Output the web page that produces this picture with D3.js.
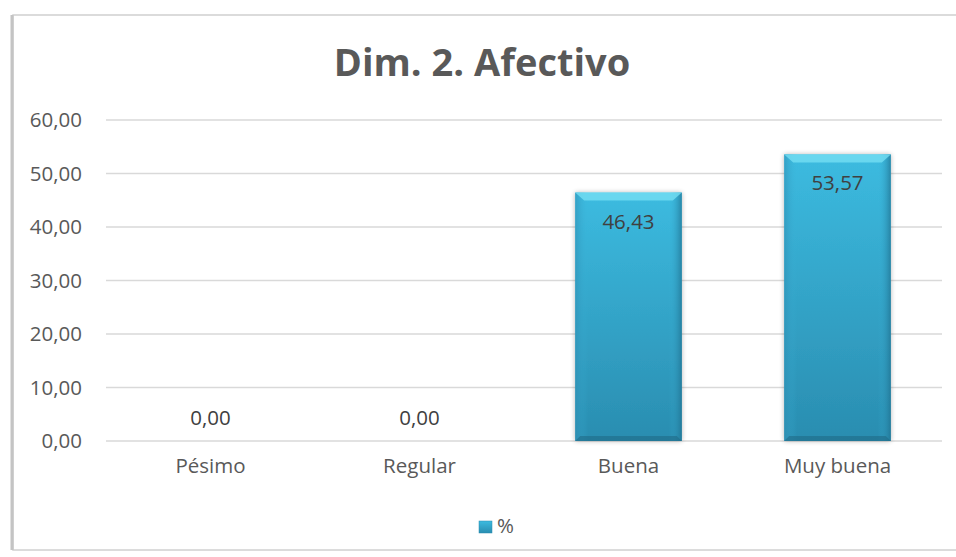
<!DOCTYPE html>
<html>
<head>
<meta charset="utf-8">
<script src="https://cdn.jsdelivr.net/npm/d3@7"></script>
<style>
  body { margin: 0; background: #fff; }
  text { font-family: "Open Sans", "DejaVu Sans", sans-serif; }
</style>
</head>
<body>
<div id="container"></div>
<script>
let w = 956;
let h = 557;

// data
let categories = ["Pésimo", "Regular", "Buena", "Muy buena"];
let values = [0, 0, 46.43, 53.57];
let yTicks = [0, 10, 20, 30, 40, 50, 60];
let seriesName = "%";

let fmt = function(v){ return d3.format(".2f")(v).replace(".", ","); };

let barData = categories.map(function(c, i){ return {cat: c, val: values[i]}; });

let viz = d3.select("#container")
  .append("svg")
    .attr("width", w)
    .attr("height", h);

let defs = viz.append("defs");

let grad = defs.append("linearGradient")
  .attr("id", "barGrad")
  .attr("x1", 0).attr("y1", 0).attr("x2", 0).attr("y2", 1);
grad.append("stop").attr("offset", "0%").attr("stop-color", "#3cbbe0");
grad.append("stop").attr("offset", "100%").attr("stop-color", "#2a8db0");

let sideGrad = defs.append("linearGradient")
  .attr("id", "sideGrad")
  .attr("x1", 0).attr("y1", 0).attr("x2", 1).attr("y2", 0);
sideGrad.append("stop").attr("offset", "0%").attr("stop-color", "#2f8fb3").attr("stop-opacity", 0.6);
sideGrad.append("stop").attr("offset", "12%").attr("stop-color", "#3cb6dc").attr("stop-opacity", 0);
sideGrad.append("stop").attr("offset", "88%").attr("stop-color", "#3cb6dc").attr("stop-opacity", 0);
sideGrad.append("stop").attr("offset", "100%").attr("stop-color", "#1f6f8e").attr("stop-opacity", 0.7);

let shadow = defs.append("filter").attr("id", "shadow")
  .attr("x", "-20%").attr("y", "-20%").attr("width", "140%").attr("height", "140%");
shadow.append("feGaussianBlur").attr("in", "SourceAlpha").attr("stdDeviation", 2.5);
shadow.append("feOffset").attr("dx", 0).attr("dy", 0).attr("result", "blur");
shadow.append("feComponentTransfer").append("feFuncA").attr("type", "linear").attr("slope", 0.3);
let merge = shadow.append("feMerge");
merge.append("feMergeNode");
merge.append("feMergeNode").attr("in", "SourceGraphic");

// chart frame
viz.append("rect")
  .attr("x", 13).attr("y", 15)
  .attr("width", w + 10).attr("height", 535)
  .attr("fill", "#fff")
  .attr("stroke", "#d0d0d0")
  .attr("stroke-width", 1.5);
viz.append("line")
  .attr("x1", 12).attr("x2", 12).attr("y1", 15).attr("y2", 550)
  .attr("stroke", "#c4c4c4").attr("stroke-width", 3);

let margin = {left: 106, right: 14, top: 120, bottom: 116};

let x = d3.scaleBand()
  .domain(categories)
  .range([margin.left, w - margin.right])
  .paddingInner(0.49)
  .paddingOuter(0.245);

let y = d3.scaleLinear()
  .domain([0, 60])
  .range([h - margin.bottom, margin.top]);

// gridlines
viz.append("g")
  .selectAll("line")
  .data(yTicks)
  .enter()
  .append("line")
    .attr("x1", margin.left)
    .attr("x2", w - margin.right)
    .attr("y1", function(d){ return y(d); })
    .attr("y2", function(d){ return y(d); })
    .attr("stroke", "#d9d9d9")
    .attr("stroke-width", 1.3);

// y axis labels
let yAxis = d3.axisLeft(y).tickValues(yTicks).tickFormat(fmt).tickSize(0).tickPadding(0);
let yAxisGroup = viz.append("g")
  .attr("transform", "translate(" + 82 + ",0)")
  .call(yAxis);
yAxisGroup.select(".domain").remove();
yAxisGroup.selectAll("text")
  .attr("fill", "#595959")
  .attr("font-size", 20.5)
  .attr("font-family", "'Open Sans', sans-serif");

// x axis labels
let xAxis = d3.axisBottom(x).tickSize(0).tickPadding(0);
let xAxisGroup = viz.append("g")
  .attr("transform", "translate(0," + (y(0) + 17) + ")")
  .call(xAxis);
xAxisGroup.select(".domain").remove();
xAxisGroup.selectAll("text")
  .attr("fill", "#595959")
  .attr("font-size", 20.5)
  .attr("font-family", "'Open Sans', sans-serif");

// bars
let bars = viz.selectAll(".bar").data(barData.filter(function(d){ return d.val > 0; })).enter()
  .append("g")
    .attr("class", "bar");

bars.append("rect")
    .attr("x", function(d){ return x(d.cat); })
    .attr("y", function(d){ return y(d.val); })
    .attr("width", x.bandwidth())
    .attr("height", function(d){ return y(0) - y(d.val); })
    .attr("fill", "url(#barGrad)")
    .attr("filter", "url(#shadow)");

bars.append("rect")
    .attr("x", function(d){ return x(d.cat); })
    .attr("y", function(d){ return y(d.val); })
    .attr("width", x.bandwidth())
    .attr("height", function(d){ return y(0) - y(d.val); })
    .attr("fill", "url(#sideGrad)");

// top bevel
bars.append("polygon")
    .attr("points", function(d){
      let x0 = x(d.cat);
      let x1 = x0 + x.bandwidth();
      let y0 = y(d.val);
      return [[x0, y0], [x1, y0], [x1 - 9, y0 + 8], [x0 + 9, y0 + 8]].join(" ");
    })
    .attr("fill", "#74def3")
    .attr("opacity", 0.8);

// bottom bevel
bars.append("polygon")
    .attr("points", function(d){
      let x0 = x(d.cat);
      let x1 = x0 + x.bandwidth();
      let y0 = y(0);
      return [[x0, y0], [x1, y0], [x1 - 5, y0 - 5], [x0 + 5, y0 - 5]].join(" ");
    })
    .attr("fill", "#1f6a87")
    .attr("opacity", 0.6);

// data labels
viz.selectAll(".dlabel").data(barData).enter()
  .append("text")
  .attr("class", "dlabel")
  .text(function(d){ return fmt(d.val); })
  .attr("x", function(d){ return x(d.cat) + x.bandwidth() / 2; })
  .attr("y", function(d){ return d.val > 0 ? y(d.val) + 36 : y(d.val) - 16; })
  .attr("text-anchor", "middle")
  .attr("fill", "#404040")
  .attr("font-size", 20.5);

// title
viz.append("text")
  .text("Dim. 2. Afectivo")
  .attr("x", 482)
  .attr("y", 76)
  .attr("text-anchor", "middle")
  .attr("font-size", 38)
  .attr("font-weight", "bold")
  .attr("fill", "#595959");

// legend
let legend = viz.append("g").attr("transform", "translate(479,521)");
legend.append("rect")
  .attr("width", 13).attr("height", 12)
  .attr("fill", "url(#barGrad)")
  .attr("stroke", "#2a8db0").attr("stroke-width", 0.5);
legend.append("text")
  .text(seriesName)
  .attr("x", 18)
  .attr("y", 12)
  .attr("font-size", 20.5)
  .attr("fill", "#595959");
</script>
</body>
</html>
